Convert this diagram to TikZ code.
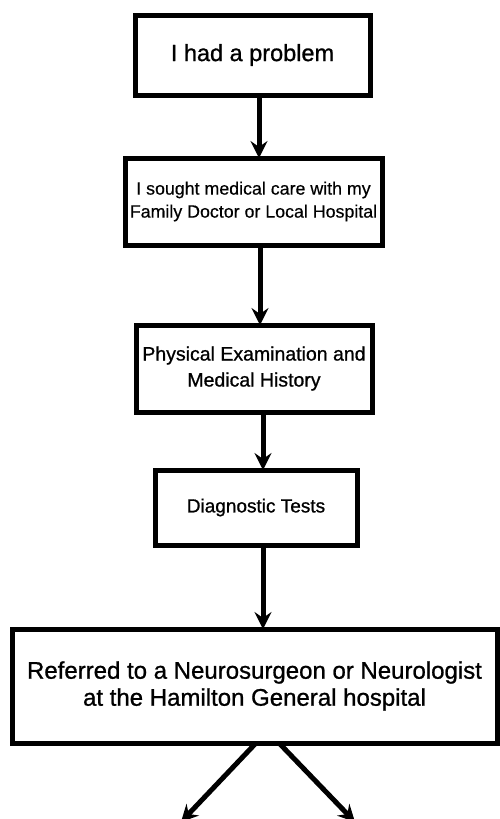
\documentclass[tikz,border=0pt]{standalone}
\usepackage{fontspec}
\setmainfont{Liberation Sans}
% slightly heavier strokes for the printed labels
\newfontfamily\labelfont{Liberation Sans}[FakeBold=0.9]
\newfontfamily\lightlabelfont{Liberation Sans}[FakeBold=0.4]
\usetikzlibrary{arrows.meta,calc}
\begin{document}
\begin{tikzpicture}[x=1pt,y=-1pt,
  box/.style={draw=black, line width=5pt, fill=white, align=center,
    inner sep=0pt, outer sep=0pt, text=black},
  flow/.style={draw=black, line width=5pt,
    -{Stealth[length=17pt,width=17pt,inset=6pt]}}]
\useasboundingbox (0,0) rectangle (500,819);
\clip (0,0) rectangle (500,819);

% steps of the pathway, top to bottom
\node[box, minimum width=235pt, minimum height=80pt,
  font=\labelfont\fontsize{23.5}{27}\selectfont] (b1) at (252.5,55) {I had a problem};
\node[box, minimum width=257pt, minimum height=87pt,
  font=\lightlabelfont\fontsize{17.8}{23}\selectfont] (b2) at (253.5,201.5)
  {I sought medical care with my\\Family Doctor or Local Hospital};
\node[box, minimum width=236pt, minimum height=87pt,
  font=\labelfont\fontsize{19.5}{26}\selectfont] (b3) at (254,368.5)
  {Physical Examination and\\Medical History};
\node[box, minimum width=202pt, minimum height=75pt,
  font=\labelfont\fontsize{19}{23}\selectfont] (b4) at (256,507.5) {Diagnostic Tests};
\node[box, minimum width=485pt, minimum height=114pt,
  font=\labelfont\fontsize{24}{27}\selectfont] (b5) at (254.5,686)
  {Referred to a Neurosurgeon or Neurologist\\at the Hamilton General hospital};

% columns of the vertical connectors
\coordinate (c1) at (259,0);
\coordinate (c2) at (260,0);
\coordinate (c3) at (263,0);
\coordinate (c4) at (263,0);
% open ends of the two branches
\coordinate (endL) at (181,822);
\coordinate (endR) at (355,822);

\draw[flow] (b1.south -| c1) -- (b2.north -| c1);
\draw[flow] (b2.south -| c2) -- (b3.north -| c2);
\draw[flow] (b3.south -| c3) -- (b4.north -| c3);
\draw[flow] (b4.south -| c4) -- (b5.north -| c4);
\draw[flow] ([xshift=1.5pt]b5.south) -- (endL);
\draw[flow] ([xshift=24.5pt]b5.south) -- (endR);
\end{tikzpicture}
\end{document}
